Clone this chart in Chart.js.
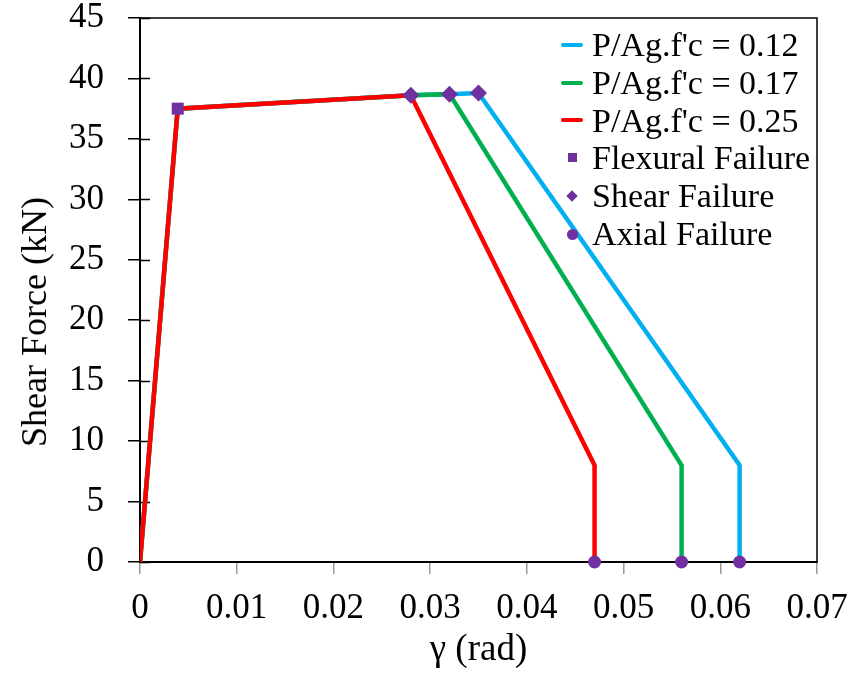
<!DOCTYPE html>
<html>
<head>
<meta charset="utf-8">
<script src="https://cdn.jsdelivr.net/npm/chart.js@4.4.1/dist/chart.umd.min.js"></script>
<style>
    body { margin: 0; background: #fff; }
    #wrap { position: relative; width: 852px; height: 676px; }
    #legend { position: absolute; left: 556px; top: 26px; font-family: 'Liberation Serif', 'Times New Roman', serif; font-size: 34px; color: #000; }
    .row { position: relative; height: 37.8px; display: flex; align-items: center; white-space: nowrap; }
    .sw { width: 36px; height: 100%; position: relative; }
    .sw .ln { position: absolute; left: 5px; top: 50%; width: 22px; height: 4px; margin-top: -2px; border-radius: 2px; }
    .sw .sq { position: absolute; left: 12px; top: 50%; width: 9px; height: 9px; margin-top: -5px; background: #7030A0; }
    .sw .dm { position: absolute; left: 12px; top: 50%; width: 8px; height: 8px; margin-top: -4px; background: #7030A0; transform: rotate(45deg); }
    .sw .ci { position: absolute; left: 11px; top: 50%; width: 11px; height: 11px; margin-top: -5px; background: #7030A0; border-radius: 50%; }
    #ytitle { position: absolute; left: 34px; top: 322px; transform: translate(-50%, -50%) rotate(-90deg); font-family: 'Liberation Serif', 'Times New Roman', serif; font-size: 36px; line-height: 1; white-space: nowrap; color: #000; }
</style>
</head>
<body>
<div id="wrap">
    <canvas id="chart" width="852" height="676"></canvas>
    <div id="legend"></div>
    <div id="ytitle"></div>
</div>
<script>
// Datos (γ en rad, fuerza cortante en kN)
const gamma012 = [0, 0.0039, 0.028, 0.032, 0.035, 0.062, 0.062];
const shear012 = [0, 37.5, 38.6, 38.7, 38.8, 8, 0];
const gamma017 = [0, 0.0039, 0.028, 0.032, 0.056, 0.056];
const shear017 = [0, 37.5, 38.6, 38.7, 8, 0];
const gamma025 = [0, 0.0039, 0.028, 0.047, 0.047];
const shear025 = [0, 37.5, 38.6, 8, 0];

const flexGamma = [0.0039];
const flexShear = [37.5];
const shearFailGamma = [0.028, 0.032, 0.035];
const shearFailShear = [38.6, 38.7, 38.8];
const axialGamma = [0.047, 0.056, 0.062];
const axialShear = [0, 0, 0];

const xTickLabels = ['0', '0.01', '0.02', '0.03', '0.04', '0.05', '0.06', '0.07'];
const yTickLabels = ['0', '5', '10', '15', '20', '25', '30', '35', '40', '45'];

const seriesNames = ['P/Ag.f\'c = 0.12', 'P/Ag.f\'c = 0.17', 'P/Ag.f\'c = 0.25', 'Flexural Failure', 'Shear Failure', 'Axial Failure'];
const xTitle = 'γ (rad)';
const yTitle = 'Shear Force (kN)';

const BLUE = '#00B0F0';
const GREEN = '#00B050';
const RED = '#FF0000';
const PURPLE = '#7030A0';
const FONT = "'Liberation Serif', 'Times New Roman', serif";

function toPoints(xs, ys) {
    return xs.map((x, i) => ({ x: x, y: ys[i] }));
}

function lineSet(label, xs, ys, color) {
    return {
        label: label,
        data: toPoints(xs, ys),
        showLine: true,
        borderColor: color,
        borderWidth: 4.5,
        pointRadius: 0,
        tension: 0,
        borderJoinStyle: 'miter'
    };
}

function markerSet(label, xs, ys, style, radius) {
    return {
        label: label,
        data: toPoints(xs, ys),
        showLine: false,
        pointStyle: style,
        pointRadius: radius,
        pointBackgroundColor: PURPLE,
        pointBorderWidth: 0,
        clip: false
    };
}

// Marco del área y ticks que cruzan el eje Y
const framePlugin = {
    id: 'frame',
    beforeDatasetsDraw(chart) {
        const { ctx, chartArea: a, scales } = chart;
        ctx.save();
        ctx.strokeStyle = '#000';
        ctx.lineWidth = 1.5;
        ctx.strokeRect(a.left, a.top, a.right - a.left, a.bottom - a.top);
        ctx.beginPath();
        scales.y.ticks.forEach(t => {
            const py = Math.round(scales.y.getPixelForValue(t.value)) + 0.5;
            ctx.moveTo(a.left, py);
            ctx.lineTo(a.left + 10, py);
        });
        ctx.stroke();
        ctx.restore();
    }
};

const ctx = document.getElementById('chart').getContext('2d');
const chart = new Chart(ctx, {
    type: 'scatter',
    data: {
        datasets: [
            markerSet(seriesNames[3], flexGamma, flexShear, 'rect', 8.5),
            markerSet(seriesNames[4], shearFailGamma, shearFailShear, 'rectRot', 8.5),
            markerSet(seriesNames[5], axialGamma, axialShear, 'circle', 6.5),
            lineSet(seriesNames[2], gamma025, shear025, RED),
            lineSet(seriesNames[1], gamma017, shear017, GREEN),
            lineSet(seriesNames[0], gamma012, shear012, BLUE)
        ]
    },
    options: {
        responsive: false,
        animation: false,
        layout: { padding: 0 },
        plugins: {
            legend: { display: false },
            tooltip: { enabled: false }
        },
        scales: {
            x: {
                type: 'linear',
                min: 0,
                max: 0.07,
                afterFit: s => { s.height = 114; s.paddingLeft = 0; s.paddingRight = 35; },
                afterBuildTicks: s => { s.ticks = xTickLabels.map(v => ({ value: parseFloat(v) })); },
                border: { display: true, color: '#000', width: 2 },
                grid: { drawOnChartArea: false, drawTicks: true, tickLength: 12, color: '#999', lineWidth: 1.5 },
                ticks: {
                    padding: 14,
                    color: '#000',
                    font: { family: FONT, size: 35 },
                    maxRotation: 0,
                    callback: (v, i) => xTickLabels[i]
                },
                title: {
                    display: true,
                    text: xTitle,
                    color: '#000',
                    font: { family: FONT, size: 37 },
                    padding: { top: 0, bottom: 4 }
                }
            },
            y: {
                type: 'linear',
                min: 0,
                max: 45,
                afterFit: s => { s.width = 140; s.paddingTop = 18; s.paddingBottom = 0; },
                afterBuildTicks: s => { s.ticks = yTickLabels.map(v => ({ value: parseFloat(v) })); },
                border: { display: true, color: '#000', width: 2 },
                grid: { drawOnChartArea: false, drawTicks: true, tickLength: 12, color: '#000', lineWidth: 1.5 },
                ticks: {
                    padding: 24,
                    color: '#000',
                    font: { family: FONT, size: 35 },
                    callback: (v, i) => yTickLabels[i]
                },
                title: { display: false }
            }
        }
    },
    plugins: [framePlugin]
});

// Título del eje Y (HTML, girado)
document.getElementById('ytitle').textContent = yTitle;

// Leyenda en HTML
const legendItems = [
    { name: seriesNames[0], cls: 'ln', color: BLUE },
    { name: seriesNames[1], cls: 'ln', color: GREEN },
    { name: seriesNames[2], cls: 'ln', color: RED },
    { name: seriesNames[3], cls: 'sq' },
    { name: seriesNames[4], cls: 'dm' },
    { name: seriesNames[5], cls: 'ci' }
];
const legend = document.getElementById('legend');
legendItems.forEach(item => {
    const row = document.createElement('div');
    row.className = 'row';
    const sw = document.createElement('div');
    sw.className = 'sw';
    const mark = document.createElement('div');
    mark.className = item.cls;
    if (item.color) mark.style.background = item.color;
    sw.appendChild(mark);
    const txt = document.createElement('span');
    txt.textContent = item.name;
    row.appendChild(sw);
    row.appendChild(txt);
    legend.appendChild(row);
});
</script>
</body>
</html>
